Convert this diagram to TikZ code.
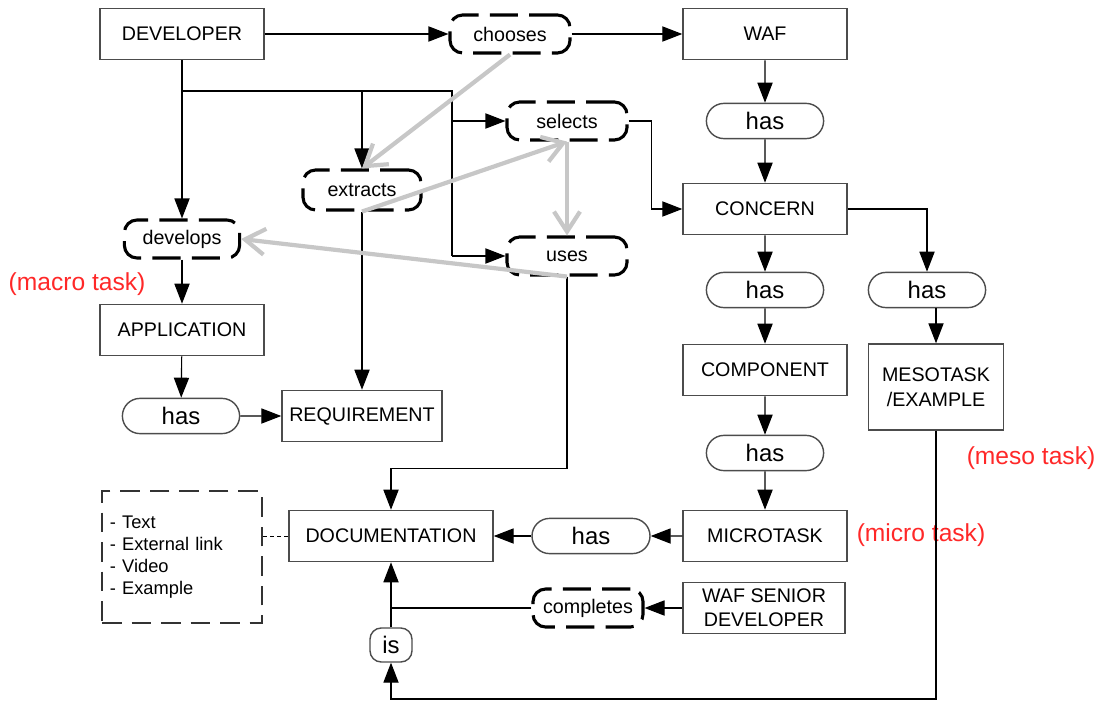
\documentclass[tikz,border=0pt]{standalone}
\usepackage{fontspec}
\setmainfont{Liberation Sans}
\usetikzlibrary{arrows.meta,shapes.misc}

\definecolor{taskred}{RGB}{255,40,40}

\begin{document}
\begin{tikzpicture}[x=0.025cm,y=-0.025cm,line width=0.8pt,
  box/.style={draw=black!70,line width=1pt,inner sep=0pt,minimum width=4.1cm,minimum height=1.28cm,align=center,font=\fontsize{14}{17}\selectfont},
  rel/.style={draw=black!70,line width=1pt,rounded rectangle,inner sep=0pt,minimum width=2.93cm,minimum height=0.88cm,font=\fontsize{17}{20}\selectfont},
  act/.style={draw,line width=2.2pt,dash pattern=on 20pt off 8pt,rounded corners=9pt,inner sep=0pt,minimum width=3cm,minimum height=0.95cm,font=\fontsize{14}{17}\selectfont},
  note/.style={text=taskred,font=\fontsize{17.5}{20}\selectfont},
  arr/.style={-{Triangle[length=5mm,width=3.8mm]}},
  flow/.style={draw=black!22,line width=3pt,-{Straight Barb[length=5mm,width=6.5mm]}}]

\useasboundingbox (0,0) rectangle (1102,702);

% top row
\node[box] (Developer) at (182,34) {DEVELOPER};
\node[act] (Chooses) at (510,34) {chooses};
\node[box] (Waf) at (765,34) {WAF};

% developer tasks
\node[act] (Selects) at (567,121) {selects};
\node[act,minimum width=2.95cm,minimum height=1cm] (Extracts) at (362,190) {extracts};
\node[act,minimum width=2.88cm] (Develops) at (182,239) {develops};
\node[act] (Uses) at (567,256) {uses};

\node[box] (Application) at (182,330) {APPLICATION};
\node[rel] (HasReq) at (181,416) {has};
\node[box,minimum width=4cm] (Requirement) at (362,416) {REQUIREMENT};

% framework side
\node[rel] (HasConcern) at (765,121) {has};
\node[box] (Concern) at (765,209) {CONCERN};
\node[rel] (HasComponent) at (765,290) {has};
\node[rel] (HasMeso) at (927,290) {has};
\node[box] (Component) at (765,370) {COMPONENT};
\node[box,minimum width=3.38cm,minimum height=2.15cm,font=\fontsize{14}{18}\selectfont] (Meso) at (936,387) {MESOTASK\\/EXAMPLE};
\node[rel] (HasMicro) at (765,453) {has};
\node[box] (Microtask) at (765,536) {MICROTASK};
\node[box,minimum width=4.05cm,font=\fontsize{14}{17}\selectfont] (Senior) at (764,608) {WAF SENIOR\\DEVELOPER};

% documentation
\node[box,minimum width=5.1cm] (Documentation) at (391,536) {DOCUMENTATION};
\node[rel,minimum width=2.95cm] (HasDoc) at (591,536) {has};
\node[act,minimum width=2.75cm] (Completes) at (588,608) {completes};
\node[draw=black!70,line width=1pt,rounded corners=8pt,inner sep=0pt,minimum width=1.05cm,minimum height=0.85cm,font=\fontsize{17}{20}\selectfont] (Is) at (391,645) {is};
\node[draw=black!80,line width=1.5pt,dash pattern=on 14pt off 7pt,minimum width=4cm,minimum height=3.28cm,inner xsep=0.2cm,text width=3.6cm,align=left,font=\fontsize{13}{15.6}\selectfont] (Media) at (182,557) {- Text\\- External link\\- Video\\- Example};

% task levels
\node[note] (MacroLabel) at (77,284) {(macro task)};
\node[note] (MesoLabel) at (1031,458) {(meso task)};
\node[note] (MicroLabel) at (921,535) {(micro task)};

\coordinate (Bus) at (452,91);
\coordinate (Floor) at (0,699);

% connectors
\draw[arr] (Developer) -- (Chooses);
\draw[arr] (Chooses) -- (Waf);
\draw[arr] (Developer) -- (Develops);
\draw (Developer.south |- Bus) -- (Bus) -- (Bus |- Uses);
\draw[arr] (Extracts.north |- Bus) -- (Extracts);
\draw[arr] (Bus |- Selects) -- (Selects);
\draw[arr] (Bus |- Uses) -- (Uses);

\draw[arr] (Develops) -- (Application);
\draw[arr] (Application) -- (HasReq);
\draw[arr] (HasReq) -- (Requirement);
\draw[arr] (Extracts) -- (Requirement);

\draw[arr] (Waf) -- (HasConcern);
\draw[arr] (HasConcern) -- (Concern);
\draw[arr] (Selects.east) -- ++(23,0) |- (Concern.west);
\draw[arr] (Concern) -- (HasComponent);
\draw[arr] (Concern.east) -| (HasMeso.north);
\draw[arr] (Meso.north |- HasMeso.south) -- (Meso.north);
\draw[arr] (HasComponent) -- (Component);
\draw[arr] (Component) -- (HasMicro);
\draw[arr] (HasMicro) -- (Microtask);
\draw[arr] (Microtask) -- (HasDoc);
\draw[arr] (HasDoc) -- (Documentation);

\draw[arr] (Uses.south) -- ++(0,192) -| (Documentation.north);
\draw[arr] (Senior) -- (Completes);
\draw (Completes.west) -- (Completes.west -| Documentation.south);
\draw[arr] (Is) -- (Documentation);
\draw[arr] (Meso.south) -- (Meso.south |- Floor) -| (Is.south);
\draw[dash pattern=on 3pt off 2pt,line width=0.6pt] (Media.east |- Documentation.west) -- (Documentation.west);

% task flow
\draw[flow] (Chooses.south) -- (Extracts.north);
\draw[flow] (Extracts.south) -- (Selects.south);
\draw[flow] (Selects.south) -- (Uses.north);
\draw[flow] (Uses.south) -- (Develops.east);

\end{tikzpicture}
\end{document}
